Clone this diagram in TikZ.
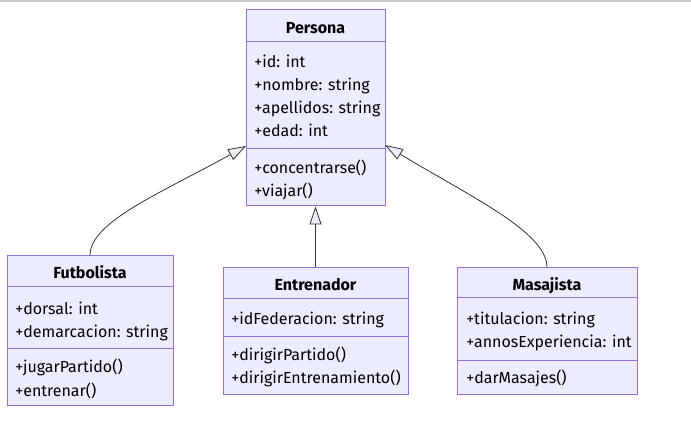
\documentclass[tikz,border=0pt]{standalone}
\usepackage{fontspec}
\setmainfont{Fira Sans}
\usepackage{tikz}
\usetikzlibrary{arrows.meta}

\definecolor{umlfill}{HTML}{ECECFF}
\definecolor{umlline}{HTML}{9370DB}
\definecolor{linkcol}{HTML}{333333}
\definecolor{topbar}{HTML}{C8C8C8}

\begin{document}
\begin{tikzpicture}[x=1pt, y=-1pt, semithick, font=\fontsize{16}{19}\selectfont]
  \tikzstyle{classbox}=[draw=umlline, fill=umlfill, line width=1pt, inner sep=0pt]
  \tikzstyle{divider}=[draw=umlline, line width=1pt]
  \tikzstyle{cname}=[anchor=base, inner sep=0pt, font=\fontsize{16}{19}\selectfont\bfseries]
  \tikzstyle{member}=[anchor=base west, inner sep=0pt]
  \tikzstyle{inherit}=[draw=linkcol, line width=0.8pt, -{Triangle[length=18pt, width=12pt, fill=umlfill]}]
  \useasboundingbox (0,0) rectangle (691,446);
  \fill[topbar] (0,0) rectangle (691,2);

  % Persona
  \node[classbox, minimum width=139pt, minimum height=196pt] (persona) at (315.5,108) {};
  \draw[divider] (246,42) -- (385,42);
  \draw[divider] (246,149) -- (385,149);
  \node[cname]  (pT) at (315.5,34) {Persona};
  \node[member] (p1) at (254,68)  {+id: int};
  \node[member] (p2) at (254,91)  {+nombre: string};
  \node[member] (p3) at (254,114) {+apellidos: string};
  \node[member] (p4) at (254,137) {+edad: int};
  \node[member] (p5) at (254,174) {+concentrarse()};
  \node[member] (p6) at (254,197) {+viajar()};

  % Futbolista
  \node[classbox, minimum width=166pt, minimum height=149pt] (futbolista) at (90,330.5) {};
  \draw[divider] (7,287) -- (173,287);
  \draw[divider] (7,349) -- (173,349);
  \node[cname]  (fT) at (90,279) {Futbolista};
  \node[member] (f1) at (15,315) {+dorsal: int};
  \node[member] (f2) at (15,338) {+demarcacion: string};
  \node[member] (f3) at (15,373) {+jugarPartido()};
  \node[member] (f4) at (15,396) {+entrenar()};

  % Entrenador
  \node[classbox, minimum width=185pt, minimum height=126pt] (entrenador) at (315.5,331) {};
  \draw[divider] (223,299) -- (408,299);
  \draw[divider] (223,337) -- (408,337);
  \node[cname]  (eT) at (315.5,291) {Entrenador};
  \node[member] (e1) at (231,325) {+idFederacion: string};
  \node[member] (e2) at (231,361) {+dirigirPartido()};
  \node[member] (e3) at (231,384) {+dirigirEntrenamiento()};

  % Masajista
  \node[classbox, minimum width=180pt, minimum height=126pt] (masajista) at (547,331) {};
  \draw[divider] (457,298) -- (637,298);
  \draw[divider] (457,361) -- (637,361);
  \node[cname]  (mT) at (547,291) {Masajista};
  \node[member] (m1) at (466,325) {+titulacion: string};
  \node[member] (m2) at (466,348) {+annosExperiencia: int};
  \node[member] (m3) at (466,384) {+darMasajes()};

  % herencia
  \coordinate (pLeft)  at (246,146);
  \coordinate (pRight) at (385,145);
  \path[inherit] (futbolista.north) .. controls (90,222) and (159,194) .. (pLeft);
  \path[inherit] (entrenador.north) -- (persona.south);
  \path[inherit] (masajista.north) .. controls (547,232) and (471,197) .. (pRight);
\end{tikzpicture}
\end{document}
